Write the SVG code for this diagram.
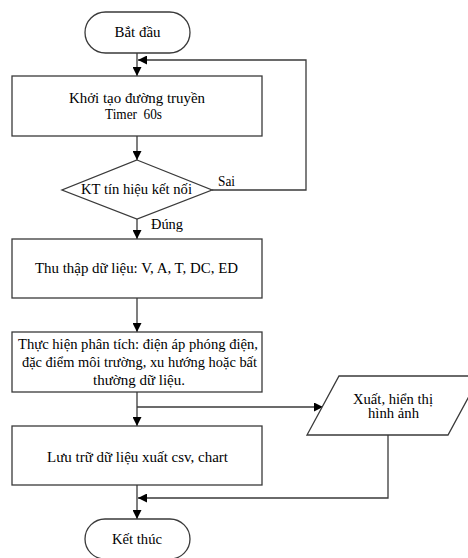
<svg xmlns="http://www.w3.org/2000/svg" width="468" height="558" viewBox="0 0 468 558">
<defs>
<marker id="ah" viewBox="0 0 10 10" refX="10" refY="5" markerWidth="9" markerHeight="9" markerUnits="userSpaceOnUse" orient="auto">
<path d="M0,0 L10,5 L0,10 z" fill="#000"/>
</marker>
<style>
.s{fill:#fff;stroke:#3a3a3a;stroke-width:1.3}
.c{fill:none;stroke:#3a3a3a;stroke-width:1.3}
.a{marker-end:url(#ah)}
text{font-family:"Liberation Serif","Times New Roman",serif;font-size:14px;fill:#000}
.m{text-anchor:middle}
</style>
</defs>
<rect width="468" height="558" fill="#fff"/>
<g id="connectors">
<path class="c a" d="M137,53 V76"/>
<path class="c a" d="M212,190 H306 V60 H138"/>
<path class="c a" d="M137,136 V160"/>
<path class="c a" d="M137,219 V239"/>
<path class="c a" d="M137,298 V332"/>
<path class="c a" d="M137,392 V426"/>
<path class="c a" d="M137,407 H323"/>
<path class="c a" d="M388,435 V498 H138"/>
<path class="c a" d="M137,485 V519"/>
</g>
<g id="start">
<rect class="s" x="85" y="12" width="105" height="41" rx="20.5"/>
<text class="m" x="137.5" y="37" textLength="46" lengthAdjust="spacingAndGlyphs">Bắt đầu</text>
</g>
<g id="init">
<rect class="s" x="12" y="76" width="250" height="60"/>
<text class="m" x="137" y="103" textLength="136" lengthAdjust="spacingAndGlyphs">Khởi tạo đường truyền</text>
<text class="m" x="133.5" y="119" textLength="57" lengthAdjust="spacingAndGlyphs" xml:space="preserve">Timer  60s</text>
</g>
<g id="check">
<polygon class="s" points="137,160 212,190 137,219 62,190"/>
<text class="m" x="136.5" y="194" textLength="111" lengthAdjust="spacingAndGlyphs">KT tín hiệu kết nối</text>
<text x="218" y="186" textLength="17" lengthAdjust="spacingAndGlyphs">Sai</text>
<text x="151" y="229" textLength="32" lengthAdjust="spacingAndGlyphs">Đúng</text>
</g>
<g id="collect">
<rect class="s" x="12" y="239" width="250" height="59"/>
<text class="m" x="136.5" y="273" textLength="203" lengthAdjust="spacingAndGlyphs">Thu thập dữ liệu: V, A, T, DC, ED</text>
</g>
<g id="analyze">
<rect class="s" x="12" y="332" width="250" height="60"/>
<text class="m" x="138" y="349" textLength="240" lengthAdjust="spacingAndGlyphs">Thực hiện phân tích: điện áp phóng điện,</text>
<text class="m" x="139.5" y="367" textLength="235" lengthAdjust="spacingAndGlyphs">đặc điểm môi trường, xu hướng hoặc bất</text>
<text class="m" x="139" y="385" textLength="92" lengthAdjust="spacingAndGlyphs">thường dữ liệu.</text>
</g>
<g id="output">
<polygon class="s" points="339,376 480,376 448,435 307,435"/>
<text class="m" x="393" y="404" textLength="80" lengthAdjust="spacingAndGlyphs">Xuất, hiển thị</text>
<text class="m" x="393.5" y="418" textLength="51" lengthAdjust="spacingAndGlyphs">hình ảnh</text>
</g>
<g id="store">
<rect class="s" x="12" y="426" width="250" height="59"/>
<text class="m" x="137.5" y="462" textLength="181" lengthAdjust="spacingAndGlyphs">Lưu trữ dữ liệu xuất csv, chart</text>
</g>
<g id="end">
<rect class="s" x="85" y="519" width="105" height="40" rx="20"/>
<text class="m" x="137" y="544" textLength="50" lengthAdjust="spacingAndGlyphs">Kết thúc</text>
</g>
</svg>
